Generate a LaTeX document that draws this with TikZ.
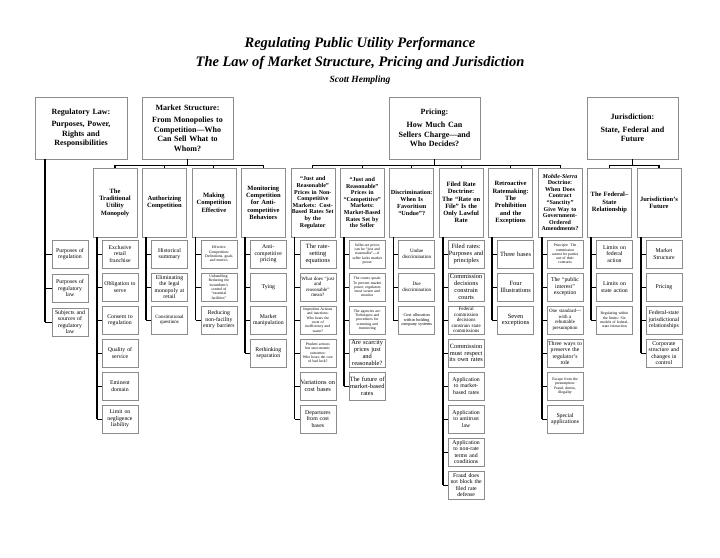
\documentclass[tikz,border=0pt]{standalone}
\usepackage{fontspec}
\setmainfont{Liberation Serif}
\usetikzlibrary{positioning}

\begin{document}
\begin{tikzpicture}[
		x=1pt, y=1pt,
		node distance=33pt,
		on grid,
		box/.style={
			rectangle,
			draw=black!45,
			line width=0.6pt,
			align=center
		},
		topbox/.style={
			box,
			text width=87pt,
			minimum height=62pt,
			inner sep=2pt,
			font=\fontsize{8}{9.6}\selectfont\bfseries
		},
		head/.style={
			box,
			text width=43pt,
			minimum height=69pt,
			inner sep=0.5pt,
			font=\fontsize{6.5}{7.3}\selectfont\bfseries
		},
		heads/.style={
			head,
			font=\fontsize{6}{6.6}\selectfont\bfseries
		},
		leaf/.style={
			box,
			text width=35pt,
			minimum height=28pt,
			inner sep=0.5pt,
			inner ysep=0.2pt,
			font=\fontsize{5.8}{6.5}\selectfont
		},
		leafb/.style={leaf, font=\fontsize{6.4}{6.8}\selectfont},
		leafs/.style={leaf, font=\fontsize{5}{5.5}\selectfont},
		leaft/.style={leaf, font=\fontsize{3.8}{4.3}\selectfont},
		bar/.style={draw=black, line width=1.1pt},
		trunk/.style={draw=black, line width=1.7pt},
		tick/.style={draw=black, line width=0.8pt}
	]

		\useasboundingbox (0,0) rectangle (720,-557);

		%title
		\node[font=\fontsize{14.5}{17}\selectfont\bfseries\itshape] at (360,-44) (ttl) {Regulating Public Utility Performance};
		\node[font=\fontsize{14.5}{17}\selectfont\bfseries\itshape, below=19pt of ttl] (sub) {The Law of Market Structure, Pricing and Jurisdiction};
		\node[font=\fontsize{9.5}{11}\selectfont\bfseries\itshape, below=17pt of sub] (auth) {Scott Hempling};

		%top level
		\node[topbox, text width=88pt] at (81,-128) (t1) {Regulatory Law:\\[3pt] Purposes, Power,\\Rights and\\Responsibilities};
		\node[topbox] at (187.5,-128) (t2) {Market Structure:\\[3pt] From Monopolies to\\Competition---Who\\Can Sell What to\\Whom?};
		\node[topbox] at (434.5,-128) (t3) {Pricing:\\[3pt] How Much Can\\Sellers Charge---and\\Who Decides?};
		\node[topbox] at (632.5,-128) (t4) {Jurisdiction:\\[3pt] State, Federal and\\Future};

		%chapters
		\node[head] at (115,-202.5) (h1) {The\\Traditional\\Utility\\Monopoly};
		\node[head, right=49.45pt of h1] (h2) {Authorizing\\Competition};
		\node[head, right=49.45pt of h2] (h3) {Making\\Competition\\Effective};
		\node[head, right=49.45pt of h3] (h4) {Monitoring\\Competition\\for Anti-\\competitive\\Behaviors};
		\node[heads, right=49.45pt of h4] (h5) {``Just and\\Reasonable''\\Prices in Non-\\Competitive\\Markets: Cost-\\Based Rates Set\\by the\\Regulator};
		\node[heads, right=49.45pt of h5] (h6) {``Just and\\Reasonable''\\Prices in\\``Competitive''\\Markets:\\Market-Based\\Rates Set by\\the Seller};
		\node[head, right=49.45pt of h6, font=\fontsize{6.2}{7}\selectfont\bfseries] (h7) {Discrimination:\\When Is\\Favoritism\\``Undue''?};
		\node[head, right=49.45pt of h7] (h8) {Filed Rate\\Doctrine:\\The ``Rate on\\File'' Is the\\Only Lawful\\Rate};
		\node[head, right=49.45pt of h8] (h9) {Retroactive\\Ratemaking:\\The\\Prohibition\\and the\\Exceptions};
		\node[heads, right=49.45pt of h9] (h10) {\textit{Mobile-Sierra}\\Doctrine:\\When Does\\Contract\\``Sanctity''\\Give Way to\\Government-\\Ordered\\Amendments?};
		\node[head, right=49.45pt of h10] (h11) {The Federal--\\State\\Relationship};
		\node[head, right=49.45pt of h11] (h12) {Jurisdiction's\\Future};

		%regulatory law
		\node[leaf] at (70,-254) (r1) {Purposes of\\regulation};
		\node[leaf, below=34pt of r1] (r2) {Purposes of\\regulatory\\law};
		\node[leaf, below=34pt of r2] (r3) {Subjects and\\sources of\\regulatory\\law};

		%market structure
		\node[leaf, below right=51.5pt and 5pt of h1] (a1) {Exclusive\\retail\\franchise};
		\node[leaf, below=of a1] (a2) {Obligation to\\serve};
		\node[leaf, below=of a2] (a3) {Consent to\\regulation};
		\node[leaf, below=of a3] (a4) {Quality of\\service};
		\node[leaf, below=of a4] (a5) {Eminent\\domain};
		\node[leaf, below=of a5] (a6) {Limit on\\negligence\\liability};

		\node[leaf, below right=51.5pt and 5pt of h2] (b1) {Historical\\summary};
		\node[leaf, below=of b1] (b2) {Eliminating\\the legal\\monopoly at\\retail};
		\node[leafs, below=of b2] (b3) {Constitutional\\questions};

		\node[leaft, below right=51.5pt and 5pt of h3] (c1) {Effective\\Competition:\\Definitions, goals\\and metrics};
		\node[leaft, below=of c1] (c2) {Unbundling:\\Reducing the\\incumbent's\\control of\\``essential\\facilities''};
		\node[leaf, below=of c2] (c3) {Reducing\\non-facility\\entry barriers};

		\node[leaf, below right=51.5pt and 5pt of h4] (d1) {Anti-\\competitive\\pricing};
		\node[leaf, below=of d1] (d2) {Tying};
		\node[leaf, below=of d2] (d3) {Market\\manipulation};
		\node[leaf, below=of d3] (d4) {Rethinking\\separation};

		%pricing
		\node[leafb, below right=51.5pt and 5pt of h5] (e1) {The rate-\\setting\\equations};
		\node[leafs, below=of e1] (e2) {What does ``just\\and\\reasonable''\\mean?};
		\node[leaft, below=of e2] (e3) {Imprudent Actions\\and inactions:\\Who bears the\\costs of\\inefficiency and\\waste?};
		\node[leaft, below=of e3] (e4) {Prudent actions\\but uneconomic\\outcomes:\\Who bears the cost\\of bad luck?};
		\node[leafb, below=of e4] (e5) {Variations on\\cost bases};
		\node[leaf, below=of e5] (e6) {Departures\\from cost\\bases};

		\node[leaft, below right=51.5pt and 5pt of h6] (f1) {Seller-set prices\\can be ``just and\\reasonable''---if\\seller lacks market\\power};
		\node[leaft, below=of f1] (f2) {The courts speak:\\To prevent market\\power, regulators\\must screen and\\monitor};
		\node[leaft, below=of f2] (f3) {The agencies act:\\Techniques and\\procedures for\\screening and\\monitoring};
		\node[leafb, below=of f3] (f4) {Are scarcity\\prices just\\and\\reasonable?};
		\node[leafb, below=of f4] (f5) {The future of\\market-based\\rates};

		\node[leafs, below right=51.5pt and 5pt of h7] (g1) {Undue\\discrimination};
		\node[leafs, below=of g1] (g2) {Due\\discrimination};
		\node[leaft, below=of g2, font=\fontsize{4.3}{4.9}\selectfont] (g3) {Cost allocation\\within holding\\company systems};

		\node[leafb, below right=51.5pt and 5pt of h8] (k1) {Filed rates:\\Purposes and\\principles};
		\node[leafb, below=of k1] (k2) {Commission\\decisions\\constrain\\courts};
		\node[leafs, below=of k2] (k3) {Federal\\commission\\decisions\\constrain state\\commissions};
		\node[leafb, below=of k3] (k4) {Commission\\must respect\\its own rates};
		\node[leaf, below=of k4] (k5) {Application\\to market-\\based rates};
		\node[leaf, below=of k5] (k6) {Application\\to antitrust\\law};
		\node[leaf, below=of k6] (k7) {Application\\to non-rate\\terms and\\conditions};
		\node[leaf, below=of k7] (k8) {Fraud does\\not block the\\filed rate\\defense};

		\node[leafb, below right=51.5pt and 5pt of h9] (m1) {Three bases};
		\node[leafb, below=of m1] (m2) {Four\\Illustrations};
		\node[leafb, below=of m2] (m3) {Seven\\exceptions};

		\node[leaft, below right=51.5pt and 5pt of h10] (n1) {Principle: The\\commission\\cannot let parties\\out of their\\contracts};
		\node[leaf, below=of n1] (n2) {The ``public\\interest''\\exception};
		\node[leafs, below=of n2] (n3) {One standard---\\with a\\rebuttable\\presumption};
		\node[leaf, below=of n3] (n4) {Three ways to\\preserve the\\regulator's\\role};
		\node[leaft, below=of n4] (n5) {Escape from the\\presumption:\\Fraud, duress,\\illegality};
		\node[leaf, below=of n5] (n6) {Special\\applications};

		%jurisdiction
		\node[leaf, below right=51.5pt and 5pt of h11] (p1) {Limits on\\federal\\action};
		\node[leaf, below=of p1] (p2) {Limits on\\state action};
		\node[leaft, below=of p2] (p3) {Regulating within\\the limits: Six\\models of federal-\\state interaction};

		\node[leaf, below right=51.5pt and 5pt of h12] (q1) {Market\\Structure};
		\node[leaf, below=of q1] (q2) {Pricing};
		\node[leaf, below=of q2] (q3) {Federal-state\\jurisdictional\\relationships};
		\node[leaf, below=of q3] (q4) {Corporate\\structure and\\changes in\\control};

		%bars from the top level
		\coordinate (barm) at ([yshift=2pt]h1.north);
		\draw[bar] (t2.south) -- (t2.south |- barm);
		\draw[bar] (h1.north) |- (barm -| h4.north) -- (h4.north);
		\draw[bar] (h2.north) -- (h2.north |- barm) (h3.north) -- (h3.north |- barm);

		\draw[bar] (t3.south) -- (t3.south |- barm);
		\draw[bar] (h5.north) |- (barm -| h10.north) -- (h10.north);
		\draw[bar] (h6.north) -- (h6.north |- barm) (h7.north) -- (h7.north |- barm)
			(h8.north) -- (h8.north |- barm) (h9.north) -- (h9.north |- barm);

		\draw[bar] (t4.south) -- (t4.south |- barm);
		\draw[bar] (h11.north) |- (barm -| h12.north) -- (h12.north);

		%trunks
		\coordinate (cr) at ([xshift=10pt]t1.south west);
		\coordinate (ca) at ([xshift=4pt]h1.south west);
		\coordinate (cb) at ([xshift=4pt]h2.south west);
		\coordinate (cc) at ([xshift=4pt]h3.south west);
		\coordinate (cd) at ([xshift=4pt]h4.south west);
		\coordinate (ce) at ([xshift=4pt]h5.south west);
		\coordinate (cf) at ([xshift=4pt]h6.south west);
		\coordinate (cg) at ([xshift=4pt]h7.south west);
		\coordinate (ck) at ([xshift=4pt]h8.south west);
		\coordinate (cm) at ([xshift=4pt]h9.south west);
		\coordinate (cn) at ([xshift=4pt]h10.south west);
		\coordinate (cp) at ([xshift=4pt]h11.south west);
		\coordinate (cq) at ([xshift=4pt]h12.south west);

		\draw[trunk] (cr) -- (cr |- r3.west);
		\draw[trunk] (ca) -- (ca |- a6.west);
		\draw[trunk] (cb) -- (cb |- b3.west);
		\draw[trunk] (cc) -- (cc |- c3.west);
		\draw[trunk] (cd) -- (cd |- d4.west);
		\draw[trunk] (ce) -- (ce |- e6.west);
		\draw[trunk] (cf) -- (cf |- f5.west);
		\draw[trunk] (cg) -- (cg |- g3.west);
		\draw[trunk] (ck) -- (ck |- k8.west);
		\draw[trunk] (cm) -- (cm |- m3.west);
		\draw[trunk] (cn) -- (cn |- n6.west);
		\draw[trunk] (cp) -- (cp |- p3.west);
		\draw[trunk] (cq) -- (cq |- q4.west);

		%ticks
		\draw[tick] (r1.west -| cr) -- (r1.west) (r2.west -| cr) -- (r2.west) (r3.west -| cr) -- (r3.west);
		\draw[tick] (a1.west -| ca) -- (a1.west) (a2.west -| ca) -- (a2.west) (a3.west -| ca) -- (a3.west)
			(a4.west -| ca) -- (a4.west) (a5.west -| ca) -- (a5.west) (a6.west -| ca) -- (a6.west);
		\draw[tick] (b1.west -| cb) -- (b1.west) (b2.west -| cb) -- (b2.west) (b3.west -| cb) -- (b3.west);
		\draw[tick] (c1.west -| cc) -- (c1.west) (c2.west -| cc) -- (c2.west) (c3.west -| cc) -- (c3.west);
		\draw[tick] (d1.west -| cd) -- (d1.west) (d2.west -| cd) -- (d2.west) (d3.west -| cd) -- (d3.west)
			(d4.west -| cd) -- (d4.west);
		\draw[tick] (e1.west -| ce) -- (e1.west) (e2.west -| ce) -- (e2.west) (e3.west -| ce) -- (e3.west)
			(e4.west -| ce) -- (e4.west) (e5.west -| ce) -- (e5.west) (e6.west -| ce) -- (e6.west);
		\draw[tick] (f1.west -| cf) -- (f1.west) (f2.west -| cf) -- (f2.west) (f3.west -| cf) -- (f3.west)
			(f4.west -| cf) -- (f4.west) (f5.west -| cf) -- (f5.west);
		\draw[tick] (g1.west -| cg) -- (g1.west) (g2.west -| cg) -- (g2.west) (g3.west -| cg) -- (g3.west);
		\draw[tick] (k1.west -| ck) -- (k1.west) (k2.west -| ck) -- (k2.west) (k3.west -| ck) -- (k3.west)
			(k4.west -| ck) -- (k4.west) (k5.west -| ck) -- (k5.west) (k6.west -| ck) -- (k6.west)
			(k7.west -| ck) -- (k7.west) (k8.west -| ck) -- (k8.west);
		\draw[tick] (m1.west -| cm) -- (m1.west) (m2.west -| cm) -- (m2.west) (m3.west -| cm) -- (m3.west);
		\draw[tick] (n1.west -| cn) -- (n1.west) (n2.west -| cn) -- (n2.west) (n3.west -| cn) -- (n3.west)
			(n4.west -| cn) -- (n4.west) (n5.west -| cn) -- (n5.west) (n6.west -| cn) -- (n6.west);
		\draw[tick] (p1.west -| cp) -- (p1.west) (p2.west -| cp) -- (p2.west) (p3.west -| cp) -- (p3.west);
		\draw[tick] (q1.west -| cq) -- (q1.west) (q2.west -| cq) -- (q2.west) (q3.west -| cq) -- (q3.west)
			(q4.west -| cq) -- (q4.west);

	\end{tikzpicture}
\end{document}
